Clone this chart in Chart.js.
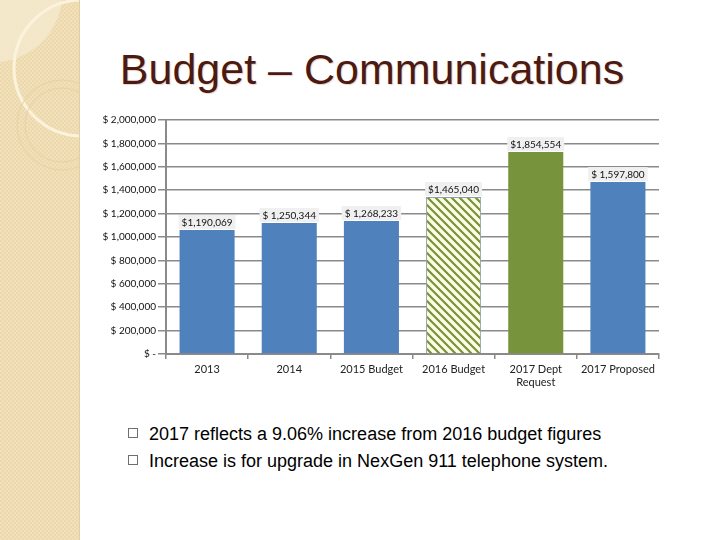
<!DOCTYPE html>
<html>
<head>
<meta charset="utf-8">
<script src="https://cdn.jsdelivr.net/npm/chart.js@4.4.1/dist/chart.umd.min.js"></script>
<style>
  html, body { margin: 0; padding: 0; }
  body { width: 720px; height: 540px; position: relative; overflow: hidden; background: #ffffff; font-family: "Liberation Sans", Arial, sans-serif; }
  #side { position: absolute; left: 0; top: 0; width: 80px; height: 540px; }
  #title { position: absolute; left: 0; top: 45px; width: 744px; text-align: center; font-size: 43px; color: #4b1a12; text-shadow: 1px 1px 1px #ecd2ca; white-space: nowrap; }
  #wrap { position: absolute; left: 90px; top: 100px; width: 600px; height: 300px; }
  .bullet { position: absolute; left: 128px; font-size: 18px; color: #000; white-space: nowrap; }
  .bullet .box { display: inline-block; width: 8px; height: 8px; border: 1px solid #6f6f6f; margin-right: 11px; vertical-align: 2px; }
</style>
</head>
<body>
<svg id="side" width="80" height="540" xmlns="http://www.w3.org/2000/svg">
  <defs>
    <pattern id="tex" width="4" height="4" patternUnits="userSpaceOnUse">
      <rect width="4" height="4" fill="#f1e0b9"/>
      <rect width="2" height="2" fill="#ecd8ad"/>
      <rect x="2" y="2" width="2" height="2" fill="#ecd8ad"/>
    </pattern>
  </defs>
  <rect width="80" height="540" fill="url(#tex)"/>
  <path d="M0,62 A70,70 0 0 0 62,0 L0,0 Z" fill="#f5ead0" opacity="0.8"/>
  <circle cx="82" cy="68" r="68" fill="none" stroke="#fbf3dc" stroke-width="3"/>
  <circle cx="62" cy="125" r="45" fill="none" stroke="#e6d2a6" stroke-width="1"/>
  <circle cx="62" cy="125" r="37" fill="none" stroke="#e6d2a6" stroke-width="1"/>
  <line x1="79.5" y1="0" x2="79.5" y2="540" stroke="#e2cfa4" stroke-width="1"/>
</svg>
<div id="title">Budget – Communications</div>
<div id="wrap"><canvas id="c" width="600" height="300"></canvas></div>
<div class="bullet" style="top:424px"><span class="box"></span>2017 reflects a 9.06% increase from 2016 budget figures</div>
<div class="bullet" style="top:451px"><span class="box"></span>Increase is for upgrade in NexGen 911 telephone system.</div>
<script>
const categories = [["2013"], ["2014"], ["2015 Budget"], ["2016 Budget"], ["2017 Dept", "Request"], ["2017 Proposed"]];
// bar heights as drawn in the picture
const barValues = [1060000, 1120000, 1137000, 1342000, 1726000, 1470000];
// value labels printed above the bars
const valueLabels = ["$1,190,069", "$ 1,250,344", "$ 1,268,233", "$1,465,040", "$1,854,554", "$ 1,597,800"];
const yTicks = [0, 200000, 400000, 600000, 800000, 1000000, 1200000, 1400000, 1600000, 1800000, 2000000];

function hatch() {
  const p = document.createElement('canvas');
  p.width = 8; p.height = 8;
  const g = p.getContext('2d');
  g.fillStyle = '#fdfde4';
  g.fillRect(0, 0, 8, 8);
  g.strokeStyle = '#77933c';
  g.lineWidth = 2.2;
  g.beginPath();
  g.moveTo(-2, -2); g.lineTo(10, 10);
  g.moveTo(-2, 6); g.lineTo(2, 10);
  g.moveTo(6, -2); g.lineTo(10, 2);
  g.stroke();
  return g.createPattern(p, 'repeat');
}

const blue = '#4f81bd', green = '#77933c';
const colors = [blue, blue, blue, hatch(), green, blue];
const borders = [blue, blue, blue, '#8aa0a8', green, blue];

const labelPlugin = {
  id: 'valLabels',
  afterDatasetsDraw(chart) {
    const ctx = chart.ctx;
    const meta = chart.getDatasetMeta(0);
    ctx.save();
    ctx.font = '10px Lato, "DejaVu Sans", sans-serif';
    ctx.textAlign = 'center';
    ctx.textBaseline = 'middle';
    meta.data.forEach((bar, i) => {
      const t = valueLabels[i];
      const w = ctx.measureText(t).width + 6;
      const cy = bar.y - 8;
      ctx.fillStyle = '#f0f0f0';
      ctx.fillRect(bar.x - w / 2, cy - 7, w, 14);
      ctx.fillStyle = '#111';
      ctx.fillText(t, bar.x, cy + 0.5);
    });
    ctx.restore();
  }
};

new Chart(document.getElementById('c'), {
  type: 'bar',
  data: {
    labels: categories,
    datasets: [{
      data: barValues,
      backgroundColor: colors,
      borderColor: borders,
      borderWidth: [0, 0, 0, 1, 0, 0],
      categoryPercentage: 1.0,
      barPercentage: 0.67
    }]
  },
  plugins: [labelPlugin],
  options: {
    responsive: false,
    animation: false,
    events: [],
    layout: { padding: { left: 0, right: 31, top: 20, bottom: 0 } },
    plugins: { legend: { display: false }, tooltip: { enabled: false }, title: { display: false } },
    scales: {
      x: {
        offset: true,
        grid: { display: true, offset: true, drawOnChartArea: false, drawTicks: true, tickLength: 5, color: '#8a8a8a', lineWidth: 1.5 },
        border: { display: true, color: '#8a8a8a', width: 2 },
        ticks: { color: '#222', font: { family: 'Lato, "DejaVu Sans", sans-serif', size: 11 }, padding: 4, maxRotation: 0, autoSkip: false },
        afterFit(s) { s.height = 46; }
      },
      y: {
        min: 0, max: 2000000,
        afterBuildTicks(s) { s.ticks = yTicks.map(v => ({ value: v })); },
        grid: { color: '#8a8a8a', lineWidth: 1.5, tickLength: 8, drawTicks: true },
        border: { display: true, color: '#8a8a8a', width: 2 },
        ticks: {
          color: '#111',
          padding: 2,
          font: { family: 'Lato, "DejaVu Sans", sans-serif', size: 10 },
          callback(v) { return v === 0 ? '$ -' : '$ ' + v.toLocaleString('en-US'); }
        },
        afterFit(s) { s.width = 76; }
      }
    }
  }
});
</script>
</body>
</html>
